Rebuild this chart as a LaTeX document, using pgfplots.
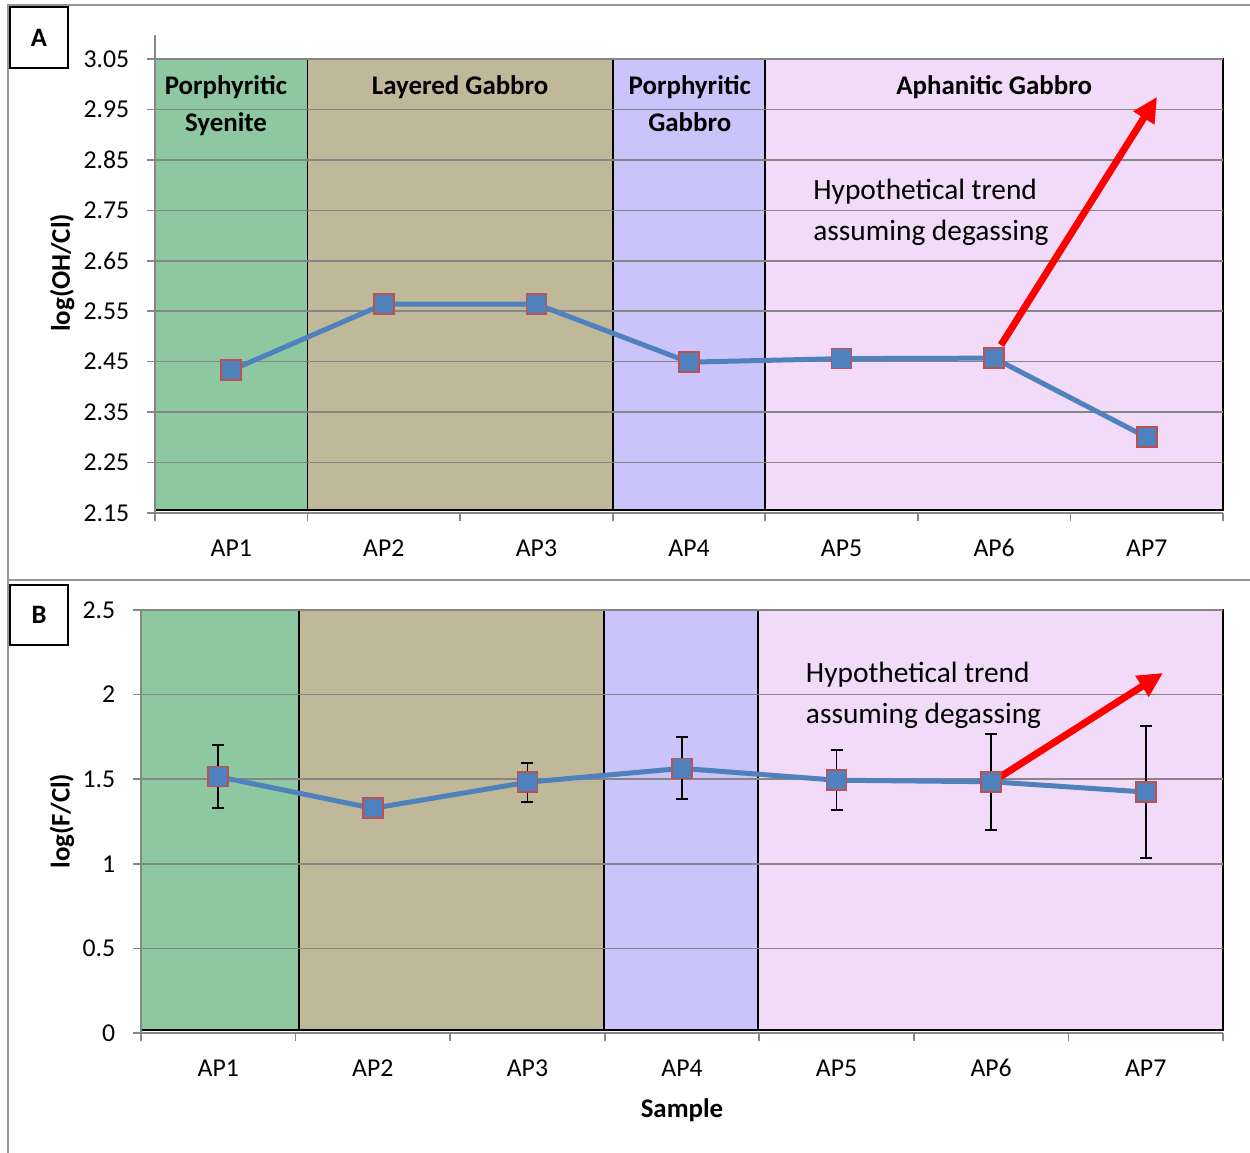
\documentclass[border=0pt]{standalone}
\usepackage{fontspec}
\setmainfont{Carlito}
\usepackage{pgfplots}
\pgfplotsset{compat=1.18}
\usetikzlibrary{arrows.meta}
\definecolor{bgreen}{RGB}{142,200,160}
\definecolor{btan}{RGB}{191,185,154}
\definecolor{bpurple}{RGB}{202,196,250}
\definecolor{bpink}{RGB}{242,219,248}
\definecolor{lblue}{RGB}{79,129,189}
\definecolor{medge}{RGB}{192,80,77}
\definecolor{gridgray}{RGB}{134,134,134}
\definecolor{framegray}{RGB}{150,150,150}
\newcommand{\tfont}{\fontsize{15.5}{18}\selectfont}
\newcommand{\bfont}{\fontsize{16.2}{19}\selectfont\bfseries}
\newcommand{\hfont}{\fontsize{17.7}{21}\selectfont}
\pgfplotsset{
  excel/.style={
    scale only axis, set layers,
    xmin=0.5, xmax=7.5,
    xtick={1,2,3,4,5,6,7},
    xticklabels={AP1,AP2,AP3,AP4,AP5,AP6,AP7},
    minor xtick={0.5,1.5,2.5,3.5,4.5,5.5,6.5,7.5},
    major x tick style={draw=none},
    minor x tick style={draw=gridgray, line width=1bp},
    y tick style={draw=gridgray, line width=1bp},
    tick align=outside,
    major tick length=4.8bp, minor tick length=4.8bp,
    axis lines*=left,
    axis line style={draw=gridgray, line width=1bp},
    ymajorgrids,
    grid style={draw=gridgray, line width=1bp},
    tick label style={font=\tfont},
    /pgf/number format/assume math mode=true,
    xticklabel style={yshift=-7.2bp, text height=10.5bp, text depth=2bp},
    yticklabel style={xshift=-7.2bp},
    label style={font=\bfont},
    clip=false,
  },
  band/.style={on layer=axis background, fill=#1, draw=black, line width=1bp, mark=none, forget plot},
  dataline/.style={color=lblue, line width=3bp, mark=square*, mark size=6bp,
    mark options={fill=lblue, draw=medge, line width=1bp}},
}
\begin{document}
\begin{tikzpicture}[x=0.6bp, y=0.6bp]
% outer frames
\draw[framegray, line width=1.2bp] (8,0) -- (8,1148) -- (1260,1148);
\draw[framegray, line width=1.2bp] (8,573) -- (1260,573);
% panel A
\begin{axis}[excel, at={(93bp,384bp)}, anchor=south west,
  width=640.8bp, height=272.4bp,
  ymin=2.15, ymax=3.05,
  ytick={2.15,2.25,2.35,2.45,2.55,2.65,2.75,2.85,2.95,3.05},
  yticklabel style={/pgf/number format/.cd, fixed, fixed zerofill, precision=2},
  ylabel={log(OH/Cl)},
  ylabel style={at={(axis description cs:-0.087,0.529)}, anchor=center},
]
\addplot[band=bgreen] coordinates {(0.5,2.156) (1.5,2.156) (1.5,3.05) (0.5,3.05) (0.5,2.156)};
\addplot[band=btan] coordinates {(1.5,2.156) (3.5,2.156) (3.5,3.05) (1.5,3.05) (1.5,2.156)};
\addplot[band=bpurple] coordinates {(3.5,2.156) (4.5,2.156) (4.5,3.05) (3.5,3.05) (3.5,2.156)};
\addplot[band=bpink] coordinates {(4.5,2.156) (7.5,2.156) (7.5,3.05) (4.5,3.05) (4.5,2.156)};
\addplot[dataline] coordinates {(1,2.433) (2,2.564) (3,2.564) (4,2.449) (5,2.456) (6,2.457) (7,2.300)};
\draw[red, line width=4.2bp, -{Triangle[length=15bp, width=14bp]}] (axis cs:6.045,2.483) -- (axis cs:7.068,2.975);
\node[font=\bfont, anchor=base] at (axis cs:0.965,2.9806) {Porphyritic};
\node[font=\bfont, anchor=base] at (axis cs:0.965,2.9053) {Syenite};
\node[font=\bfont, anchor=base] at (axis cs:2.5,2.9806) {Layered Gabbro};
\node[font=\bfont, anchor=base] at (axis cs:4.005,2.9806) {Porphyritic};
\node[font=\bfont, anchor=base] at (axis cs:4.005,2.9053) {Gabbro};
\node[font=\bfont, anchor=base] at (axis cs:6,2.9806) {Aphanitic Gabbro};
\node[font=\hfont, anchor=west, inner sep=0pt] at (axis cs:4.813,2.788) {Hypothetical trend};
\node[font=\hfont, anchor=west, inner sep=0pt] at (axis cs:4.813,2.705) {assuming degassing};
\end{axis}
\draw[gridgray, line width=1bp] (155,1094) -- (155,1118);
% panel B
\begin{axis}[excel, at={(84.6bp,72bp)}, anchor=south west,
  width=649.2bp, height=253.8bp,
  ymin=0, ymax=2.5,
  ytick={0,0.5,1,1.5,2,2.5},
  ylabel={log(F/Cl)},
  ylabel style={at={(axis description cs:-0.073,0.501)}, anchor=center},
  xlabel={Sample},
  xlabel style={at={(axis description cs:0.5,-0.182)}, anchor=center},
]
\addplot[band=bgreen] coordinates {(0.5,0.018) (1.522,0.018) (1.522,2.5) (0.5,2.5) (0.5,0.018)};
\addplot[band=btan] coordinates {(1.522,0.018) (3.495,0.018) (3.495,2.5) (1.522,2.5) (1.522,0.018)};
\addplot[band=bpurple] coordinates {(3.495,0.018) (4.49,0.018) (4.49,2.5) (3.495,2.5) (3.495,0.018)};
\addplot[band=bpink] coordinates {(4.49,0.018) (7.5,0.018) (7.5,2.5) (4.49,2.5) (4.49,0.018)};
\addplot[only marks, mark=none, forget plot,
  error bars/.cd, y dir=both, y explicit,
  error bar style={draw=black, line width=1bp},
  error mark options={draw=black, line width=1bp, mark size=3.6bp, rotate=90}]
  coordinates {
  (1,1.515) += (0,0.187) -= (0,0.185)
  (3,1.482) += (0,0.114) -= (0,0.115)
  (4,1.564) += (0,0.184) -= (0,0.181)
  (5,1.494) += (0,0.180) -= (0,0.178)
  (6,1.485) += (0,0.284) -= (0,0.285)
  (7,1.424) += (0,0.392) -= (0,0.390)
  };
\addplot[dataline] coordinates {(1,1.515) (2,1.328) (3,1.482) (4,1.564) (5,1.494) (6,1.485) (7,1.424)};
\draw[red, line width=4.2bp, -{Triangle[length=15bp, width=14bp]}] (axis cs:6.057,1.513) -- (axis cs:7.112,2.128);
\node[font=\hfont, anchor=west, inner sep=0pt] at (axis cs:4.80,2.116) {Hypothetical trend};
\node[font=\hfont, anchor=west, inner sep=0pt] at (axis cs:4.80,1.874) {assuming degassing};
\end{axis}
% A / B boxes
\draw[black, line width=1.2bp, fill=white] (10,1085) rectangle (68,1146);
\node[font=\fontsize{16}{19}\selectfont\bfseries] at (39,1115.5) {A};
\draw[black, line width=1.2bp, fill=white] (10,508) rectangle (68,568);
\node[font=\fontsize{16}{19}\selectfont\bfseries] at (39,538) {B};
\pgfresetboundingbox
\useasboundingbox (0,0) rectangle (1250,1153);
\end{tikzpicture}
\end{document}
